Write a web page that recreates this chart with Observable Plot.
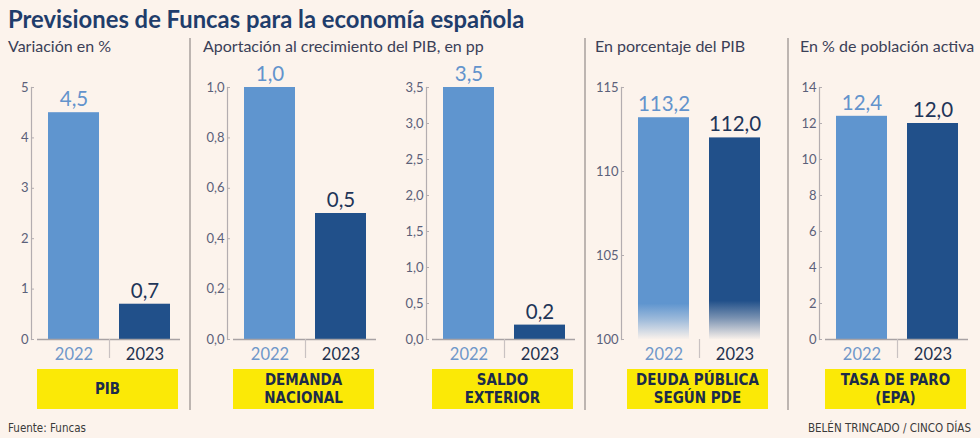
<!DOCTYPE html>
<html>
<head>
<meta charset="utf-8">
<script src="https://cdn.jsdelivr.net/npm/d3@7"></script>
<script src="https://cdn.jsdelivr.net/npm/@observablehq/plot@0.6"></script>
<style>
  html, body { margin: 0; padding: 0; background: #fcf3ec; }
  #root { position: relative; width: 980px; height: 438px; background: #fcf3ec; overflow: hidden; font-family: Lato, "Open Sans", sans-serif; }
  .title { position: absolute; left: 8px; top: 5px; font-weight: 700; font-size: 23.8px; line-height: 28px; color: #1f3d6b; white-space: nowrap; }
  .sub { position: absolute; top: 36px; font-size: 16px; line-height: 20px; color: #3b4057; white-space: nowrap; }
  .sep { position: absolute; top: 38px; height: 372px; width: 2px; background: #bdb5b1; }
  .box { position: absolute; top: 369px; height: 40px; background: #fbe906; display: flex; align-items: center; justify-content: center; text-align: center; font-family: "Liberation Sans Narrow", "DejaVu Sans Condensed", sans-serif; font-weight: 700; font-size: 15px; line-height: 18px; color: #1c2b4a; }
  .foot { position: absolute; top: 421px; font-family: "Liberation Sans Narrow", "DejaVu Sans Condensed", sans-serif; font-size: 11.5px; color: #3a3a3a; white-space: nowrap; }
  .panel { position: absolute; top: 55px; }
  .panel svg { overflow: visible; background: transparent; }
</style>
</head>
<body>
<div id="root">
  <div class="title">Previsiones de Funcas para la economía española</div>
</div>
<script>
// ---- data ----
const years = ["2022", "2023"];
const pib = [4.5, 0.7];
const demandaNacional = [1.0, 0.5];
const saldoExterior = [3.5, 0.2];
const deudaPublica = [113.2, 112.0];
const tasaParo = [12.4, 12.0];

const ticksPib = [0, 1, 2, 3, 4, 5];
const ticksDemanda = [0, 0.2, 0.4, 0.6, 0.8, 1.0];
const ticksSaldo = [0, 0.5, 1.0, 1.5, 2.0, 2.5, 3.0, 3.5];
const ticksDeuda = [100, 105, 110, 115];
const ticksParo = [0, 2, 4, 6, 8, 10, 12, 14];

const subtitles = ["Variación en %", "Aportación al crecimiento del PIB, en pp", "En porcentaje del PIB", "En % de población activa"];
const boxLabels = ["PIB", "DEMANDA<br>NACIONAL", "SALDO<br>EXTERIOR", "DEUDA PÚBLICA<br>SEGÚN PDE", "TASA DE PARO<br>(EPA)"];
const source = "Fuente: Funcas";
const credit = "BELÉN TRINCADO / CINCO DÍAS";

// ---- styling ----
const barColor = {"2022": "#5f95cf", "2023": "#21508a"};
const textColor = {"2022": "#6393cc", "2023": "#1f3558"};
const yearColor = {"2022": "#6f97c9", "2023": "#22304c"};
const fadeStart = {"2022": 0.84, "2023": 0.81};

const loc = d3.formatLocale({decimal: ",", thousands: ".", grouping: [3], currency: ["", "€"]});
const f1 = loc.format(".1f");
const f0 = loc.format(".0f");

const root = document.getElementById("root");

const panels = [
  {left: 0, values: pib, domain: [0, 5], ticks: ticksPib, tf: f0, baseline: true, fade: false},
  {left: 196, values: demandaNacional, domain: [0, 1], ticks: ticksDemanda, tf: f1, baseline: true, fade: false},
  {left: 395, values: saldoExterior, domain: [0, 3.5], ticks: ticksSaldo, tf: f1, baseline: true, fade: false},
  {left: 590, values: deudaPublica, domain: [100, 115], ticks: ticksDeuda, tf: f0, baseline: false, fade: true},
  {left: 788, values: tasaParo, domain: [0, 14], ticks: ticksParo, tf: f0, baseline: true, fade: false}
];

const subLefts = [8, 203, 595, 800];
subtitles.forEach((s, i) => {
  const d = document.createElement("div");
  d.className = "sub"; d.style.left = subLefts[i] + "px"; d.textContent = s;
  root.appendChild(d);
});
[190, 585, 788].forEach(x => {
  const d = document.createElement("div");
  d.className = "sep"; d.style.left = (x - 1) + "px";
  root.appendChild(d);
});

const W = 185, ML = 37, MR = 5, H = 310, MT = 32, MB = 26;
const FONT = "Lato, 'Open Sans', sans-serif";

panels.forEach((p, pi) => {
  const data = years.map((y, i) => ({year: y, value: p.values[i], base: p.domain[0]}));
  const marks = [];
  if (p.fade) {
    marks.push(() => {
      const ns = "http://www.w3.org/2000/svg";
      const defs = document.createElementNS(ns, "defs");
      years.forEach(y => {
        const g = document.createElementNS(ns, "linearGradient");
        g.setAttribute("id", "fade" + y);
        g.setAttribute("x1", "0"); g.setAttribute("y1", "0");
        g.setAttribute("x2", "0"); g.setAttribute("y2", "1");
        const fs0 = fadeStart[y];
        [[0, 1], [fs0, 1], [fs0 + (1 - fs0) * 0.45, 0.6], [1, 0.02]].forEach(([o, op]) => {
          const s = document.createElementNS(ns, "stop");
          s.setAttribute("offset", o); s.setAttribute("stop-color", barColor[y]); s.setAttribute("stop-opacity", op);
          g.appendChild(s);
        });
        defs.appendChild(g);
      });
      return defs;
    });
    years.forEach(y => {
      marks.push(Plot.barY(data, {filter: d => d.year === y, x: "year", y1: "base", y2: "value", fill: "url(#fade" + y + ")"}));
    });
  } else {
    marks.push(Plot.barY(data, {x: "year", y1: "base", y2: "value", fill: d => barColor[d.year]}));
  }
  if (p.baseline) marks.push(Plot.ruleY([p.domain[0]], {stroke: "#a8a2a4", strokeWidth: 1.3}));
  marks.push(Plot.frame({anchor: "left", dx: -6, stroke: "#b3adb0", strokeWidth: 1.2}));
  marks.push(Plot.axisY({ticks: p.ticks, tickFormat: () => "", tickSize: -3, dx: -6, stroke: "#b3adb0"}));
  marks.push(Plot.axisY({ticks: p.ticks, tickFormat: p.tf, tickSize: 0, tickPadding: 9, fontSize: 13, fill: "#5b6079", fontFamily: FONT}));
  marks.push(Plot.ruleX(data.slice(1), {x: "year", y1: "base", y2: "base", insetBottom: -19, dx: -35.5, stroke: "#c9c2c2", strokeWidth: 1.2}));
  marks.push(Plot.text(data, {x: "year", frameAnchor: "bottom", dy: 15, text: "year", fontSize: 16.5, fill: d => yearColor[d.year], lineAnchor: "middle", fontFamily: FONT}));
  marks.push(Plot.text(data, {x: "year", y: "value", text: d => f1(d.value), dy: -13, fontSize: 20.5, lineAnchor: "middle", fill: d => textColor[d.year], fontFamily: FONT}));

  const chart = Plot.plot({
    width: W, height: H,
    marginLeft: ML, marginRight: MR, marginTop: MT, marginBottom: MB,
    style: {background: "transparent", overflow: "visible"},
    x: {domain: years, axis: null, paddingInner: 0.282, paddingOuter: 0.141},
    y: {domain: p.domain, axis: null},
    color: {type: "identity"},
    marks
  });
  const wrap = document.createElement("div");
  wrap.className = "panel"; wrap.style.left = p.left + "px";
  wrap.appendChild(chart);
  root.appendChild(wrap);

  const box = document.createElement("div");
  box.className = "box";
  box.style.left = (p.left + ML) + "px";
  box.style.width = (W - ML - MR - 2) + "px";
  box.innerHTML = boxLabels[pi];
  root.appendChild(box);
});

const fs = document.createElement("div");
fs.className = "foot"; fs.style.left = "8px"; fs.textContent = source;
root.appendChild(fs);
const fc = document.createElement("div");
fc.className = "foot"; fc.style.right = "9px"; fc.textContent = credit;
root.appendChild(fc);
</script>
</body>
</html>
